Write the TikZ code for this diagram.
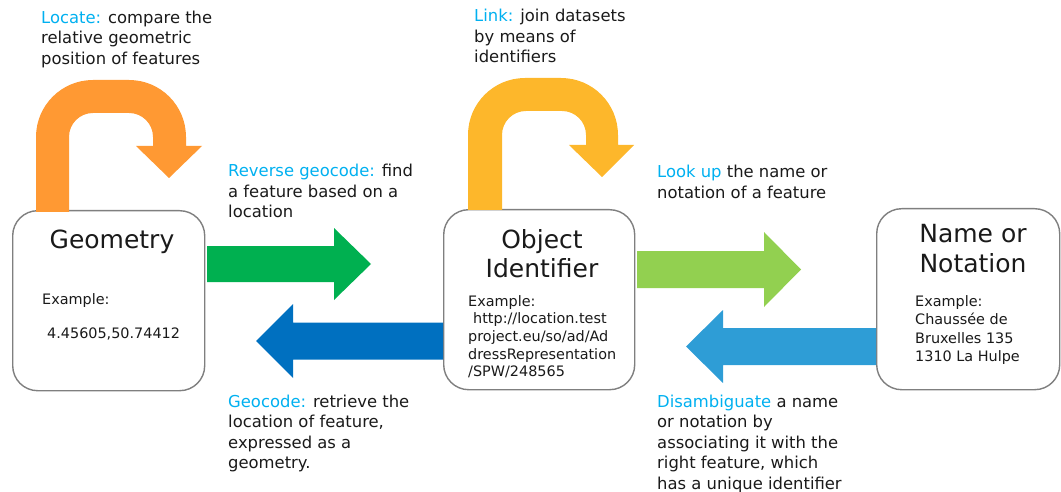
\documentclass[tikz,border=0pt]{standalone}
\usepackage{fontspec}
\setmainfont{DejaVu Sans}

\definecolor{ink}{RGB}{26,26,26}
\definecolor{keyblue}{RGB}{0,176,240}
\definecolor{cardgray}{RGB}{127,127,127}
\definecolor{loctone}{RGB}{255,153,51}
\definecolor{linktone}{RGB}{253,183,43}
\definecolor{revtone}{RGB}{0,176,80}
\definecolor{geotone}{RGB}{0,112,192}
\definecolor{looktone}{RGB}{146,208,80}
\definecolor{distone}{RGB}{46,157,214}

\newcommand\keyw[1]{\textcolor{keyblue}{#1}}

\begin{document}
\begin{tikzpicture}[x=1pt, y=-1pt,
  card/.style={draw=cardgray, line width=1.4pt, fill=white, rounded corners=25pt,
    inner sep=0pt, anchor=north west},
  note/.style={inner sep=0pt, anchor=base west, text=ink,
    font=\fontsize{16.4pt}{20.5pt}\selectfont},
  title/.style={inner sep=0pt, anchor=base, text=ink,
    font=\fontsize{25pt}{29.5pt}\selectfont},
  sample/.style={inner sep=0pt, anchor=base west, text=ink,
    font=\fontsize{14.4pt}{17.7pt}\selectfont}]

\useasboundingbox (0,0) rectangle (1061,492);

% the three entity cards
\node[card, minimum width=192pt, minimum height=180pt] (geo) at (12,210) {};
\node[card, minimum width=191pt, minimum height=180pt] (oid) at (443,209) {};
\node[card, minimum width=183pt, minimum height=181pt] (name) at (876,208) {};

% card contents
\node[title] (geotitle) at (112,248) {Geometry};
\node[sample] (geoex) at (42,304) {Example:};
\node[sample] (geoval) at (47,338) {4.45605,50.74412};

\node[title] (oidtitle) at (542,248) {\parbox[t]{200pt}{\centering Object\\Identifier}};
\node[sample] (oidex) at (468,306) {\parbox[t]{200pt}{Example:\\
  \hspace*{5pt}http://location.test\\
  project.eu/so/ad/Ad\\
  dressRepresentation\\
  /SPW/248565}};

\node[title] (nametitle) at (973,243) {\parbox[t]{200pt}{\centering Name or\\Notation}};
\node[sample, font=\fontsize{14.4pt}{18.5pt}\selectfont] (nameex) at (915,306)
  {\parbox[t]{150pt}{Example:\\Chaussée de\\Bruxelles 135\\1310 La Hulpe}};

% Locate: loop over the geometry card
\fill[loctone] (36,212) -- (36,137) .. controls (36,105.5) and (61.5,80) .. (93,80)
  -- (129,80) .. controls (160.5,80) and (186,105.5) .. (186,137)
  -- (186,146) -- (202,146) -- (169,178) -- (136,146) -- (153,146)
  -- (153,137) .. controls (153,123.7) and (142.3,113) .. (129,113)
  -- (93,113) .. controls (79.7,113) and (69,123.7) .. (69,137)
  -- (69,212) -- cycle;

% Link: loop over the identifier card
\fill[linktone] (468,210) -- (468,135) .. controls (468,103.5) and (493.5,78) .. (525,78)
  -- (561,78) .. controls (592.5,78) and (618,103.5) .. (618,135)
  -- (618,145) -- (634,145) -- (602,177) -- (569,145) -- (586,145)
  -- (586,135) .. controls (586,121.7) and (575.3,111) .. (562,111)
  -- (526,111) .. controls (512.7,111) and (502,121.7) .. (502,135)
  -- (502,210) -- cycle;

% Reverse geocode: geometry -> identifier
\fill[revtone] (207,246) -- (334,246) -- (334,228) -- (371,264) -- (334,300)
  -- (334,282) -- (207,282) -- cycle;

% Geocode: identifier -> geometry
\fill[geotone] (443,322.5) -- (293,322.5) -- (293,304) -- (256,341) -- (293,378)
  -- (293,359.5) -- (443,359.5) -- cycle;

% Look up: identifier -> name
\fill[looktone] (637,251) -- (764,251) -- (764,232) -- (801,269.5) -- (764,307)
  -- (764,288) -- (637,288) -- cycle;

% Disambiguate: name -> identifier
\fill[distone] (876,328) -- (723,328) -- (723,310) -- (686,346.5) -- (723,383)
  -- (723,365) -- (876,365) -- cycle;

% operation notes
\node[note] (locate) at (41,23.3) {\parbox[t]{240pt}{\keyw{Locate:} compare the\\
  relative geometric\\position of features}};
\node[note] (link) at (474,21.7) {\parbox[t]{240pt}{\keyw{Link:} join datasets\\
  by means of\\identifiers}};
\node[note] (reverse) at (228,177) {\parbox[t]{240pt}{\keyw{Reverse geocode:} find\\
  a feature based on a\\location}};
\node[note] (lookup) at (657,178) {\parbox[t]{240pt}{\keyw{Look up} the name or\\
  notation of a feature}};
\node[note] (geocode) at (228,407) {\parbox[t]{240pt}{\keyw{Geocode:} retrieve the\\
  location of feature,\\expressed as a\\geometry.}};
\node[note] (disamb) at (657,407) {\parbox[t]{260pt}{\keyw{Disambiguate} a name\\
  or notation by\\associating it with the\\right feature, which\\has a unique identifier}};

\end{tikzpicture}
\end{document}
